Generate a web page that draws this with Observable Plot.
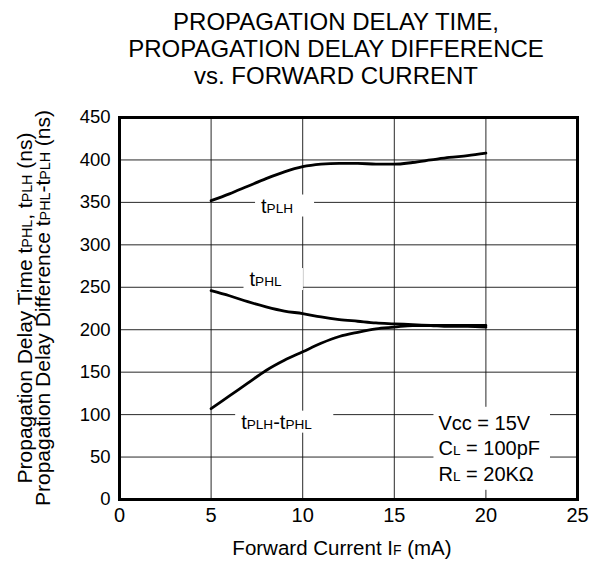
<!DOCTYPE html>
<html><head><meta charset="utf-8">
<script src="https://cdn.jsdelivr.net/npm/d3@7"></script>
<script src="https://cdn.jsdelivr.net/npm/@observablehq/plot@0.6"></script>
<style>
body{margin:0;background:#fff}
#chart svg{font-family:"Liberation Sans",Arial,sans-serif;display:block}
</style>
</head><body><div id="chart"></div>
<script>
// Data
const current = [5,6,7,8,9,10,11,12,13,14,15,16,17,18,19,20];
const tPLH  = [352,360,369,378,386,392,395,396,396,395,395,397,400,403,405,408];
const tPHL  = [246,240,233,227,222,219,215,212,210,208,207,206,205,204,204,203];
const tDiff = [107,122,137,152,164,174,184,192,197,201,203,205,205,205,205,205];
const xTicks = [0,5,10,15,20,25];
const yTicks = [0,50,100,150,200,250,300,350,400,450];
const titleLines = ["PROPAGATION DELAY TIME,", "PROPAGATION DELAY DIFFERENCE", "vs. FORWARD CURRENT"];
const xLabel = "Forward Current I{F} (mA)";
const yLabelLines = ["Propagation Delay Time t{PHL}, t{PLH} (ns)", "Propagation Delay Difference t{PHL}-t{PLH} (ns)"];
const seriesLabels = [
  {text: "t{PLH}", x: 8.6, y: 345.6},
  {text: "t{PHL}", x: 7.97, y: 259},
  {text: "t{PLH}-t{PHL}", x: 8.57, y: 91}
];
const conditions = ["Vcc = 15V", "C{L} = 100pF", "R{L} = 20KΩ"];
const conditionAnchor = [{x: 17.41, y: 61.7}];

const rows = [
  ...current.map((c, i) => ({c, v: tPLH[i], s: "tPLH"})),
  ...current.map((c, i) => ({c, v: tPHL[i], s: "tPHL"})),
  ...current.map((c, i) => ({c, v: tDiff[i], s: "diff"}))
];

const W = 601, H = 572, mL = 119, mR = 24, mT = 117, mB = 73;

const plot = Plot.plot({
  width: W, height: H,
  marginTop: mT, marginBottom: mB, marginLeft: mL, marginRight: mR,
  x: {domain: [0, 25]},
  y: {domain: [0, 450]},
  style: {fontFamily: "Liberation Sans, Arial, sans-serif", background: "white", color: "black"},
  marks: [
    Plot.gridX(xTicks.slice(1, -1), {stroke: "#111", strokeOpacity: 0.9, strokeWidth: 1}),
    Plot.gridY(yTicks.slice(1, -1), {stroke: "#111", strokeOpacity: 0.9, strokeWidth: 1}),
    Plot.axisX(xTicks, {tickSize: 0, tickPadding: 8, fontSize: 20, label: null, fill: "black"}),
    Plot.axisY(yTicks, {tickSize: 0, tickPadding: 9, fontSize: 18.5, label: null, fill: "black"}),
    Plot.line(rows, {x: "c", y: "v", z: "s", stroke: "black", strokeWidth: 2.8, curve: "monotone-x"}),
    Plot.text(seriesLabels, {x: "x", y: "y", text: "text", fontSize: 20, fill: "black"}),
    Plot.text(conditionAnchor, {x: "x", y: "y", text: () => conditions.join("\n"), fontSize: 20, lineHeight: 1.275, textAnchor: "start", fill: "black"}),
    Plot.frame({stroke: "black", strokeWidth: 3})
  ]
});

document.getElementById("chart").appendChild(plot);
const svg = d3.select(plot);

// Titles and axis labels
const tPos = [30, 57, 84];
titleLines.forEach((t, i) => {
  svg.append("text").attr("x", 336).attr("y", tPos[i])
    .attr("text-anchor", "middle").attr("font-size", 24).attr("fill", "black").text(t);
});
svg.append("text").attr("x", 342).attr("y", 555).attr("text-anchor", "middle")
  .attr("font-size", 20.5).attr("fill", "black").text(xLabel);
const yl = [32, 50];
yLabelLines.forEach((t, i) => {
  svg.append("text").attr("transform", `translate(${yl[i]},308) rotate(-90)`)
    .attr("text-anchor", "middle").attr("font-size", 21).attr("fill", "black").text(t);
});

// Small-letter subscripts: {ABC} -> smaller tspan
function smallify(root) {
  root.querySelectorAll("text, tspan").forEach(el => {
    if (el.children.length) return;
    const s = el.textContent;
    if (!s.includes("{")) return;
    el.textContent = "";
    s.split(/(\{[^}]*\})/).forEach(part => {
      if (!part) return;
      const ts = document.createElementNS("http://www.w3.org/2000/svg", "tspan");
      if (part.startsWith("{")) {
        ts.textContent = part.slice(1, -1);
        ts.setAttribute("font-size", "0.68em");
      } else ts.textContent = part;
      el.appendChild(ts);
    });
  });
}
smallify(plot);

// White boxes behind labels (covering grid lines)
function boxes(group, padL, padR, padT, padB) {
  if (!group) return;
  group.querySelectorAll(":scope > text").forEach(t => {
    const b = t.getBBox();
    const r = document.createElementNS("http://www.w3.org/2000/svg", "rect");
    const tr = t.getAttribute("transform");
    if (tr) r.setAttribute("transform", tr);
    r.setAttribute("x", b.x - padL); r.setAttribute("y", b.y - padT);
    r.setAttribute("width", b.width + padL + padR); r.setAttribute("height", b.height + padT + padB);
    r.setAttribute("fill", "white");
    r.setAttribute("stroke", "none");
    t.parentNode.insertBefore(r, t);
  });
}
const textGroups = plot.querySelectorAll('g[aria-label="text"]');
boxes(textGroups[0], 6, 21, 0, 0);
boxes(textGroups[1], 5, 10, 5, 5);
</script>
</body></html>
